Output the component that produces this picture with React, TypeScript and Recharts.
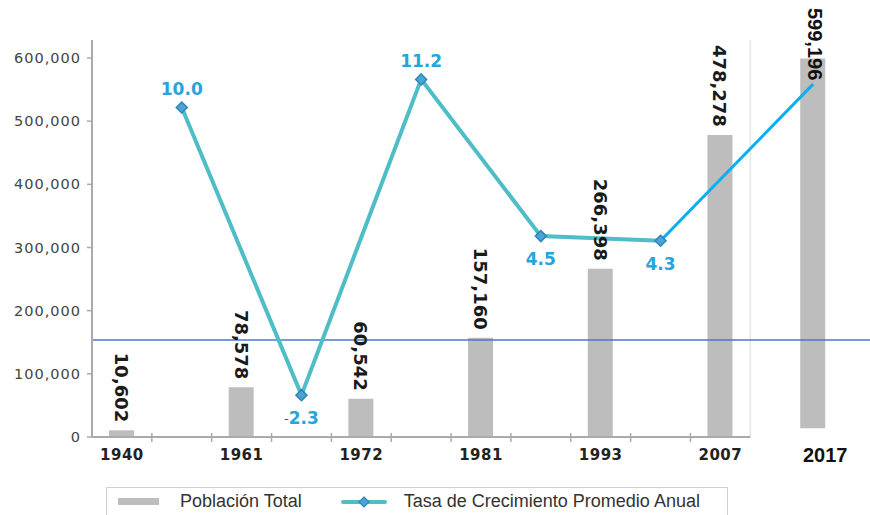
import { ComposedChart, Bar, Line, XAxis, YAxis, ReferenceLine, LabelList, Legend } from 'recharts';

const YEARS = ['1940', '1961', '1972', '1981', '1993', '2007', '2017'];
const POPULATION = [10602, 78578, 60542, 157160, 266398, 478278, 599196];
// average annual growth rate of each intercensal period, plotted between the two census columns
const GROWTH_RATE = [10.0, -2.3, 11.2, 4.5, 4.3];
// the 2017 column sits to the right of the axis and is lifted off the baseline
const LATEST_BASE = 14000;
const LATEST_RATE_END = 11.0;
const REFERENCE_POP = 153500;
const POP_TICKS = [0, 100000, 200000, 300000, 400000, 500000, 600000];

const BAR_COLOR = '#bdbdbd';
const RATE_COLOR = '#4fbdc6';
const RATE_TEXT = '#25a5dc';
const EXT_COLOR = '#0baeee';

type Row = {
  x: number;
  year?: string;
  pop?: number | number[];
  popText?: string;
  rate?: number;
  ext?: number;
};

// each census gets its own slot, the growth rates sit in the slots between them
const rows: Row[] = [];
YEARS.forEach((year, i) => {
  const latest = i === YEARS.length - 1;
  rows.push({
    x: latest ? 12.05 : i * 2 + 0.5,
    year,
    pop: latest ? [LATEST_BASE, POPULATION[i]] : POPULATION[i],
    popText: POPULATION[i].toLocaleString('en-US'),
    ext: latest ? LATEST_RATE_END : undefined,
  });
});
GROWTH_RATE.forEach((rate, j) => {
  rows.push({ x: j * 2 + 1.5, rate, ext: j === GROWTH_RATE.length - 1 ? rate : undefined });
});
rows.sort((a, b) => a.x - b.x);

const censusRows = rows.filter(r => r.year);
const censusTicks = censusRows.map(r => r.x);
const latestYear = YEARS[YEARS.length - 1];
const boundaryTicks = [1, 2, 3, 4, 5, 6, 7, 8, 9, 10];
const xTicks = [...boundaryTicks, ...censusTicks].sort((a, b) => a - b);

function XTick({ x, y, payload }: any) {
  const v = payload.value;
  if (Number.isInteger(v)) {
    return <line x1={x} x2={x} y1={y - 4} y2={y + 5} stroke="#aaa" strokeWidth={1.5} />;
  }
  const row = censusRows.find(r => r.x === v);
  if (!row) return null;
  const latest = row.year === latestYear;
  return (
    <text
      x={latest ? x + 12 : x}
      y={y + 18}
      textAnchor="middle"
      dominantBaseline="central"
      fontFamily={latest ? 'Liberation Sans' : 'DejaVu Sans'}
      fontWeight="bold"
      fontSize={latest ? 20 : 15}
      letterSpacing={latest ? 0 : 0.5}
      fill={latest ? '#111' : '#222'}
    >
      {row.year}
    </text>
  );
}

function PopLabel({ x, y, width, value, index }: any) {
  if (!value) return null;
  const cx = x + width / 2;
  const row = censusRows.find(r => r.popText === value);
  if (row && row.year === latestYear) {
    return (
      <text
        x={cx + 2}
        y={8}
        transform={`rotate(90 ${cx + 2} 8)`}
        textAnchor="start"
        dominantBaseline="central"
        fontFamily="Liberation Sans"
        fontWeight="bold"
        fontSize={20}
        fill="#111"
      >
        {value}
      </text>
    );
  }
  const ty = y - 8;
  return (
    <text
      key={index}
      x={cx}
      y={ty}
      transform={`rotate(90 ${cx} ${ty})`}
      textAnchor="end"
      dominantBaseline="central"
      fontFamily="DejaVu Sans"
      fontWeight="bold"
      fontSize={18}
      fill="#1a1a1a"
    >
      {value}
    </text>
  );
}

function RateLabel({ x, y, value }: any) {
  if (value == null) return null;
  const above = value >= 10;
  const ty = above ? y - 18 : y + 23;
  return (
    <text
      x={x}
      y={ty}
      textAnchor="middle"
      dominantBaseline="central"
      fontFamily="DejaVu Sans"
      fontWeight="bold"
      fontSize={17}
      fill={RATE_TEXT}
    >
      {value < 0 && <tspan fill="#555" fontSize={13} fontWeight="normal">-</tspan>}
      {Math.abs(value).toFixed(1)}
    </text>
  );
}

function Diamond({ cx, cy, index }: any) {
  if (cx == null || cy == null) return <g key={index} />;
  return (
    <path
      key={index}
      d={`M${cx},${cy - 5.5}L${cx + 5.5},${cy}L${cx},${cy + 5.5}L${cx - 5.5},${cy}Z`}
      fill="#4aa5d6"
      stroke="#2e86b4"
      strokeWidth={1.5}
    />
  );
}

function LegendBox() {
  return (
    <div
      style={{
        width: 622,
        height: 28,
        boxSizing: 'border-box',
        border: '1.5px solid #d0d0d0',
        borderBottom: 'none',
        display: 'flex',
        alignItems: 'center',
        fontFamily: 'Liberation Sans',
        fontSize: 18,
        color: '#333',
        whiteSpace: 'nowrap',
      }}
    >
      <span style={{ display: 'inline-block', width: 41, height: 7, background: BAR_COLOR, marginLeft: 11 }} />
      <span style={{ marginLeft: 21 }}>Población Total</span>
      <svg width={46} height={12} style={{ marginLeft: 39 }}>
        <line x1={2} x2={44} y1={6} y2={6} stroke={RATE_COLOR} strokeWidth={4} strokeLinecap="round" />
        <path d="M23,1L28,6L23,11L18,6Z" fill="#4aa5d6" stroke="#2e86b4" strokeWidth={1.2} />
      </svg>
      <span style={{ marginLeft: 17 }}>Tasa de Crecimiento Promedio Anual</span>
    </div>
  );
}

export default function App() {
  return (
    <div style={{ position: 'absolute', left: 0, top: 0, width: 870, height: 515, background: '#fff' }}>
      <ComposedChart width={870} height={515} data={rows} margin={{ top: 40, right: 0, left: 0, bottom: 0 }}>
        <XAxis
          dataKey="x"
          type="number"
          domain={[0, 13]}
          ticks={xTicks}
          interval={0}
          axisLine={false}
          tickLine={false}
          tickSize={0}
          tickMargin={0}
          height={50}
          tick={<XTick />}
        />
        <YAxis
          yAxisId="pop"
          width={92}
          domain={[0, 628500]}
          ticks={POP_TICKS}
          interval={0}
          tickFormatter={(v: number) => v.toLocaleString('en-US')}
          axisLine={{ stroke: '#aaa', strokeWidth: 2 }}
          tickLine={{ stroke: '#aaa', strokeWidth: 1.5 }}
          tickSize={5}
          tickMargin={6}
          tick={{ fontFamily: 'DejaVu Sans', fontSize: 14.5, fill: '#444', letterSpacing: 1 }}
        />
        <YAxis yAxisId="rate" hide domain={[-4.09, 12.885]} />
        <Legend content={<LegendBox />} wrapperStyle={{ left: 106, width: 622, bottom: 0 }} />
        <ReferenceLine yAxisId="pop" x={11} stroke="#e6e6e6" strokeWidth={1.5} />
        <Bar yAxisId="pop" dataKey="pop" fill={BAR_COLOR} barSize={25} isAnimationActive={false}>
          <LabelList dataKey="popText" content={<PopLabel />} />
        </Bar>
        <ReferenceLine
          yAxisId="pop"
          segment={[{ x: 0, y: 0 }, { x: 11, y: 0 }]}
          stroke="#aaa"
          strokeWidth={2}
          ifOverflow="visible"
        />
        <ReferenceLine yAxisId="pop" y={REFERENCE_POP} stroke="#4a78c8" strokeWidth={1.5} />
        <Line
          yAxisId="rate"
          dataKey="ext"
          stroke={EXT_COLOR}
          strokeWidth={3}
          dot={false}
          connectNulls
          isAnimationActive={false}
        />
        <Line
          yAxisId="rate"
          dataKey="rate"
          stroke={RATE_COLOR}
          strokeWidth={4}
          dot={<Diamond />}
          activeDot={false}
          connectNulls
          isAnimationActive={false}
        >
          <LabelList dataKey="rate" content={<RateLabel />} />
        </Line>
      </ComposedChart>
    </div>
  );
}
